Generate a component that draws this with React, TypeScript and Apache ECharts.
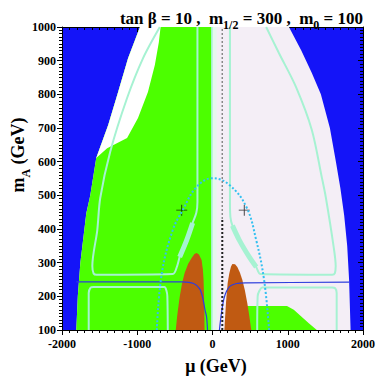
import React, { useEffect, useRef } from "react";
import * as echarts from "echarts";

// ---- data (mu in GeV, m_A in GeV) ----
const xRange = [-2000, 2000];
const yRange = [100, 1000];

// allowed region (inside the blue excluded area)
const allowedRegion: number[][] = [
  [-1810, 100], [-1790, 200], [-1756, 300], [-1677, 447], [-1624, 500], [-1545, 611],
  [-1386, 709], [-1254, 807], [-1122, 907], [-964, 1000],
  [1016, 1000], [1180, 930], [1320, 863], [1440, 800], [1560, 700], [1640, 600],
  [1700, 520], [1750, 440], [1790, 350], [1815, 250], [1835, 100],
];
// green region, mu < 0
const greenLeft: number[][] = [
  [-1810, 100], [-1790, 200], [-1756, 300], [-1677, 447], [-1624, 500], [-1545, 611],
  [-1386, 709], [-1254, 807], [-1122, 907], [-964, 1000], [-10, 1000], [-10, 100],
];
// white wedge, upper left
const whiteWedge: number[][] = [
  [-1545, 611], [-1400, 640], [-1135, 670], [-990, 730], [-858, 807], [-766, 887],
  [-713, 955], [-690, 1000], [-964, 1000], [-1122, 907], [-1254, 807], [-1386, 709],
];
// light strip near mu = 0
const lightStrip: number[][] = [[-10, 100], [-10, 1000], [55, 1000], [55, 100]];
// green region, mu > 0 bottom
const greenRight: number[][] = [
  [450, 100], [450, 171], [990, 171], [1080, 160], [1180, 140], [1280, 120], [1386, 100],
];
// brown regions
const brownLeft: number[][] = [
  [-488, 100], [-470, 140], [-450, 175], [-436, 198], [-405, 238], [-370, 269], [-325, 296],
  [-277, 314], [-240, 326], [-211, 329], [-180, 324], [-145, 308], [-128, 280], [-119, 249],
  [-112, 200], [-108, 150], [-106, 100],
];
const brownRight: number[][] = [
  [158, 100], [168, 140], [185, 198], [202, 240], [224, 269], [245, 288], [264, 296],
  [300, 295], [330, 287], [365, 270], [396, 249], [430, 218], [462, 180], [490, 140], [515, 100],
];
// mint contours
const mintUpperLeft: number[][] = [
  [-700, 1000], [-924, 907], [-1135, 789], [-1360, 629], [-1492, 492], [-1531, 397],
  [-1597, 290], [-1580, 268], [-1540, 264], [-528, 266], [-470, 290], [-436, 317],
  [-343, 367], [-264, 418], [-215, 448], [-200, 480], [-200, 1000],
];
const mintBandLeft: number[][] = [[-436, 317], [-343, 367], [-264, 418]];
const mintLowerLeft: number[][] = [
  [-1645, 100], [-1645, 210], [-1620, 226], [-1580, 228], [-640, 228], [-610, 215],
  [-600, 200], [-594, 100],
];
const mintUpperRight: number[][] = [
  [713, 1000], [884, 922], [1109, 822], [1320, 694], [1452, 554], [1505, 495],
  [1610, 347], [1637, 290], [1625, 268], [1590, 264], [640, 266], [581, 287],
  [488, 317], [356, 367], [265, 410], [238, 435], [232, 480], [232, 1000],
];
const mintBandRight: number[][] = [[581, 287], [488, 317], [356, 367], [265, 410]];
const mintLowerRight: number[][] = [
  [1650, 100], [1650, 210], [1630, 224], [1590, 226], [660, 226], [620, 215],
  [600, 200], [594, 100],
];
const mintEdge: number[][] = [[-8, 100], [-8, 1000]];
// blue solid lines
const blueLeft: number[][] = [
  [-1810, 243], [-400, 243], [-250, 238], [-170, 222], [-132, 198], [-100, 160], [-79, 139], [-66, 100],
];
const blueRight: number[][] = [
  [92, 100], [119, 150], [158, 198], [224, 228], [320, 238], [449, 240], [1815, 242],
];
// dotted cyan contour
const cyanDotted: number[][] = [
  [-740, 100], [-673, 269], [-528, 397], [-396, 456], [-211, 525], [0, 551], [224, 531],
  [449, 466], [581, 367], [686, 248], [752, 100],
];
// dotted vertical line
const blackDotted: number[][] = [[130, 100], [130, 430]];
const grayDotted: number[][] = [[130, 430], [130, 1000]];
// benchmark crosses
const crosses: number[][] = [[-409, 456], [422, 456]];

const BLUE = "#1414f8";
const GREEN = "#4cff00";
const LAVENDER = "#f4eef6";
const BROWN = "#c05a12";
const MINT = "#a6f2d2";
const FONT = "'Liberation Serif', 'DejaVu Serif', serif";

function polySeries(pts: number[][], color: string) {
  return {
    type: "custom",
    data: [[0, 500]],
    silent: true,
    clip: true,
    renderItem: (_p: any, api: any) => ({
      type: "polygon",
      shape: { points: pts.map((p) => api.coord(p)) },
      style: { fill: color },
    }),
  };
}

function lineSeries(pts: number[][], color: string, width: number, type: any = "solid", smooth: any = 0.3) {
  return {
    type: "line",
    data: pts,
    showSymbol: false,
    smooth,
    silent: true,
    clip: true,
    lineStyle: { color, width, type },
  };
}

export default function App() {
  const ref = useRef<HTMLDivElement>(null);
  useEffect(() => {
    if (!ref.current) return;
    const chart = echarts.init(ref.current, null, { renderer: "svg" });
    const labelStyle = {
      fontFamily: FONT, fontWeight: "bold", fontSize: 12, color: "#000",
      formatter: (v: number) => String(v),
    };
    const axisCommon = {
      axisLine: { show: true, onZero: false, lineStyle: { color: "#000", width: 1 } },
      splitLine: { show: false },
      minorTick: { show: true, splitNumber: 10, length: 3, lineStyle: { color: "#000" } },
    };
    chart.setOption({
      animation: false,
      title: {
        text: "{a|tan β = 10 ,  m}{s|1/2}{a| = 300 ,  m}{s|0}{a| = 100}",
        right: 10,
        top: 2,
        textStyle: {
          rich: {
            a: { fontFamily: FONT, fontWeight: "bold", fontSize: 17, color: "#000", lineHeight: 20, verticalAlign: "bottom" },
            s: { fontFamily: FONT, fontWeight: "bold", fontSize: 12, color: "#000", lineHeight: 12, verticalAlign: "bottom", padding: [0, 0, -4, 0] },
          },
        },
      },
      grid: {
        left: 62, right: 13, top: 27, bottom: 52,
        show: true, backgroundColor: BLUE, borderWidth: 0,
      },
      xAxis: [
        {
          type: "value", min: xRange[0], max: xRange[1], interval: 1000, position: "bottom",
          ...axisCommon,
          axisTick: { show: true, length: 5, inside: false, lineStyle: { color: "#000" } },
          axisLabel: { ...labelStyle, margin: 8 },
        },
        {
          type: "value", min: xRange[0], max: xRange[1], interval: 1000, position: "top",
          ...axisCommon,
          axisTick: { show: true, length: 5, inside: true, lineStyle: { color: "#000" } },
          axisLabel: { show: false },
        },
      ],
      yAxis: [
        {
          type: "value", min: yRange[0], max: yRange[1], interval: 100, position: "left",
          ...axisCommon,
          axisTick: { show: true, length: 5, inside: false, lineStyle: { color: "#000" } },
          axisLabel: { ...labelStyle, margin: 6 },
        },
        {
          type: "value", min: yRange[0], max: yRange[1], interval: 100, position: "right",
          ...axisCommon,
          axisTick: { show: true, length: 5, inside: true, lineStyle: { color: "#000" } },
          axisLabel: { show: false },
        },
      ],
      graphic: [
        {
          type: "text", x: 16, y: 155, rotation: Math.PI / 2,
          style: {
            text: "{m|m}{s|A}{m| (GeV)}", align: "center", verticalAlign: "middle",
            rich: {
              m: { fontFamily: FONT, fontWeight: "bold", fontSize: 18, fill: "#000", lineHeight: 22, verticalAlign: "bottom" },
              s: { fontFamily: FONT, fontWeight: "bold", fontSize: 12, fill: "#000", lineHeight: 12, verticalAlign: "bottom", padding: [0, 0, -5, 0] },
            },
          },
        },
        {
          type: "text", x: 216, y: 366,
          style: {
            text: "μ (GeV)", align: "center", verticalAlign: "middle",
            fontFamily: FONT, fontWeight: "bold", fontSize: 18, fill: "#000",
          },
        },
      ],
      series: [
        polySeries(allowedRegion, LAVENDER),
        polySeries(greenLeft, GREEN),
        polySeries(whiteWedge, "#ffffff"),
        polySeries(lightStrip, "#e6f8ef"),
        polySeries(greenRight, GREEN),
        lineSeries(mintUpperLeft, MINT, 2),
        lineSeries(mintBandLeft, MINT, 5),
        lineSeries(mintLowerLeft, MINT, 2),
        lineSeries(mintUpperRight, MINT, 2),
        lineSeries(mintBandRight, MINT, 5),
        lineSeries(mintLowerRight, MINT, 2),
        lineSeries(mintEdge, MINT, 1.5, "solid", 0),
        lineSeries(blueLeft, "#2e3fdc", 1.2),
        lineSeries(blueRight, "#2e3fdc", 1.2),
        polySeries(brownLeft, BROWN),
        polySeries(brownRight, BROWN),
        lineSeries(cyanDotted, "#33c0f0", 2, [2, 2], 0.4),
        lineSeries(blackDotted, "#222", 2, [2, 2], 0),
        lineSeries(grayDotted, "#888", 1.5, [2, 2], 0),
        {
          type: "scatter",
          data: crosses,
          symbol: "path://M4.6,0h0.8v10h-0.8z M0,4.6h10v0.8h-10z",
          symbolSize: 11,
          itemStyle: { color: "#000" },
          silent: true,
        },
      ],
    });
    return () => chart.dispose();
  }, []);
  return <div ref={ref} style={{ width: 378, height: 382, position: "absolute", left: 0, top: 0 }} />;
}
